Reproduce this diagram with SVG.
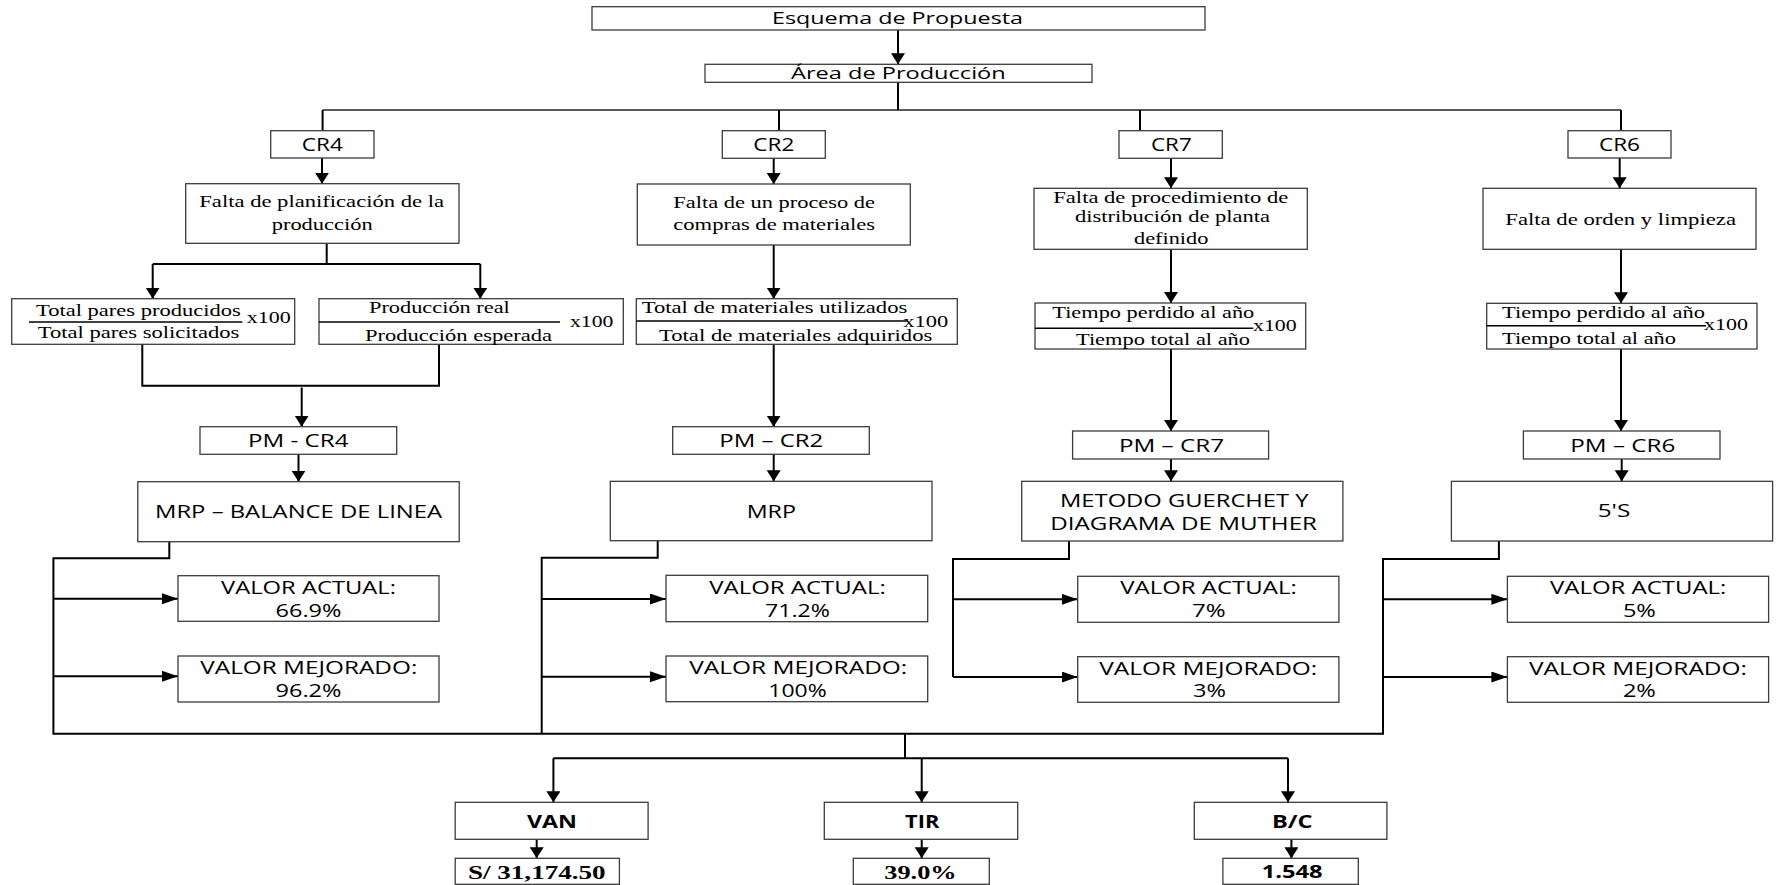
<svg xmlns="http://www.w3.org/2000/svg" width="1776" height="885" viewBox="0 0 1776 885">
  <style>
    .box { fill: #ffffff; stroke: #3c3c3c; stroke-width: 1.3; }
    .sans { font-family: "Open Sans", "Liberation Sans", sans-serif; fill: #000; }
    .serif { font-family: "Liberation Serif", "Times New Roman", serif; fill: #000; }
    .b { font-weight: bold; }
    .conn { fill: none; stroke: #000; stroke-width: 2; }
    .thin { stroke-width: 1.6; stroke: #222; }
    .frac { stroke: #000; stroke-width: 1.5; }
  </style>
  <defs>
    <marker id="aV" markerUnits="userSpaceOnUse" markerWidth="14" markerHeight="16" refX="11" refY="7" orient="auto">
      <path d="M0,0 L11,7 L0,14 z" fill="#000"/>
    </marker>
    <marker id="aH" markerUnits="userSpaceOnUse" markerWidth="18" markerHeight="13" refX="16" refY="5.5" orient="auto">
      <path d="M0,0 L16,5.5 L0,11 z" fill="#000"/>
    </marker>
  </defs>
  <rect width="1776" height="885" fill="#ffffff"/>

  <!-- connectors -->
  <g id="connectors" class="conn">
    <path d="M898,30 V64.3" marker-end="url(#aV)"/>
    <path d="M898,82.3 V110"/>
    <path class="thin" d="M322.6,110 H1621"/>
    <path d="M322.6,110 V130.7 M779,110 V130.7 M1140,110 V130.7 M1621,110 V130.7"/>
    <path d="M322,158 V183.7" marker-end="url(#aV)"/>
    <path d="M773.7,158.3 V184" marker-end="url(#aV)"/>
    <path d="M1171,158.3 V188.3" marker-end="url(#aV)"/>
    <path d="M1619.7,158 V188.3" marker-end="url(#aV)"/>
    <!-- CR4 branch -->
    <path d="M326.7,243.3 V264 M152.7,264 H480.3"/>
    <path d="M152.7,264 V298.7" marker-end="url(#aV)"/>
    <path d="M480.3,264 V298.7" marker-end="url(#aV)"/>
    <path d="M142.3,344.3 V385.7 H439 V344.3"/>
    <path d="M301.7,387.5 V426.7" marker-end="url(#aV)"/>
    <path d="M298.5,454.3 V481.7" marker-end="url(#aV)"/>
    <!-- CR2 branch -->
    <path d="M773.7,245 V298.7" marker-end="url(#aV)"/>
    <path d="M773.7,344.3 V426.7" marker-end="url(#aV)"/>
    <path d="M773.7,454.3 V481.3" marker-end="url(#aV)"/>
    <!-- CR7 branch -->
    <path d="M1171,249.3 V303" marker-end="url(#aV)"/>
    <path d="M1171,349 V431" marker-end="url(#aV)"/>
    <path d="M1171,459 V481.3" marker-end="url(#aV)"/>
    <!-- CR6 branch -->
    <path d="M1621,249.3 V303.3" marker-end="url(#aV)"/>
    <path d="M1621,349 V431" marker-end="url(#aV)"/>
    <path d="M1621.7,459 V481.3" marker-end="url(#aV)"/>
    <!-- result brackets -->
    <path d="M169.3,541.7 V558.3 H53.4 V733.7 H1383 V559 H1498.9 V541"/>
    <path d="M657.7,540.7 V557.7 H541.7 V733.7"/>
    <path d="M1069,541 V559 H953 V677"/>
    <path d="M53.4,598.7 H178" marker-end="url(#aH)"/>
    <path d="M53.4,676.3 H178" marker-end="url(#aH)"/>
    <path d="M541.7,599 H666" marker-end="url(#aH)"/>
    <path d="M541.7,676.7 H666" marker-end="url(#aH)"/>
    <path d="M953,599.3 H1077.7" marker-end="url(#aH)"/>
    <path d="M953,677 H1077.7" marker-end="url(#aH)"/>
    <path d="M1383,599.3 H1507.4" marker-end="url(#aH)"/>
    <path d="M1383,677 H1507.4" marker-end="url(#aH)"/>
    <!-- indicators -->
    <path d="M905,733.7 V758.3 M553.4,758.3 H1288"/>
    <path d="M553.4,758.3 V802.3" marker-end="url(#aV)"/>
    <path d="M921.7,758.3 V802.3" marker-end="url(#aV)"/>
    <path d="M1288,758.3 V802.3" marker-end="url(#aV)"/>
    <path d="M536.7,839.3 V858.3" marker-end="url(#aV)"/>
    <path d="M921.7,839.3 V858.3" marker-end="url(#aV)"/>
    <path d="M1291.4,839.3 V858.3" marker-end="url(#aV)"/>
  </g>

  <g id="esquema">
    <rect class="box" x="592" y="6.7" width="613" height="23.3"/>
    <text class="sans" x="772" y="24" font-size="17" textLength="251" lengthAdjust="spacingAndGlyphs">Esquema de Propuesta</text>
  </g>
  <g id="area">
    <rect class="box" x="705" y="64.3" width="387" height="18"/>
    <text class="sans" x="791" y="79" font-size="16.5" textLength="214.7" lengthAdjust="spacingAndGlyphs">Área de Producción</text>
  </g>

  <!-- causes -->
  <g id="cr4">
    <rect class="box" x="270.7" y="130.7" width="103.3" height="27.3"/>
    <text class="sans" x="301.8" y="150.7" font-size="18.5" textLength="41" lengthAdjust="spacingAndGlyphs">CR4</text>
  </g>
  <g id="cr2">
    <rect class="box" x="722.3" y="130.7" width="103" height="27.6"/>
    <text class="sans" x="753.3" y="150.7" font-size="18.5" textLength="41" lengthAdjust="spacingAndGlyphs">CR2</text>
  </g>
  <g id="cr7">
    <rect class="box" x="1119" y="130.7" width="103.3" height="27.6"/>
    <text class="sans" x="1151" y="150.7" font-size="18.5" textLength="40.7" lengthAdjust="spacingAndGlyphs">CR7</text>
  </g>
  <g id="cr6">
    <rect class="box" x="1568" y="130.7" width="103" height="27.3"/>
    <text class="sans" x="1599" y="150.7" font-size="18.5" textLength="41" lengthAdjust="spacingAndGlyphs">CR6</text>
  </g>

  <!-- problems -->
  <g id="falta-cr4">
    <rect class="box" x="185.7" y="183.7" width="273.3" height="59.6"/>
    <text class="serif" x="199.3" y="207.3" font-size="17" textLength="244.7" lengthAdjust="spacingAndGlyphs">Falta de planificación de la</text>
    <text class="serif" x="271.7" y="230" font-size="17" textLength="101" lengthAdjust="spacingAndGlyphs">producción</text>
  </g>
  <g id="falta-cr2">
    <rect class="box" x="637.3" y="184" width="273" height="61"/>
    <text class="serif" x="673.3" y="208.3" font-size="17" textLength="201.7" lengthAdjust="spacingAndGlyphs">Falta de un proceso de</text>
    <text class="serif" x="673.3" y="230" font-size="17" textLength="201.7" lengthAdjust="spacingAndGlyphs">compras de materiales</text>
  </g>
  <g id="falta-cr7">
    <rect class="box" x="1034" y="188.3" width="273.3" height="61"/>
    <text class="serif" x="1053.3" y="203.3" font-size="17" textLength="235" lengthAdjust="spacingAndGlyphs">Falta de procedimiento de</text>
    <text class="serif" x="1075" y="221.7" font-size="17" textLength="195" lengthAdjust="spacingAndGlyphs">distribución de planta</text>
    <text class="serif" x="1134" y="244.3" font-size="17" textLength="74.3" lengthAdjust="spacingAndGlyphs">definido</text>
  </g>
  <g id="falta-cr6">
    <rect class="box" x="1483" y="188.3" width="273" height="61"/>
    <text class="serif" x="1505.3" y="225" font-size="17" textLength="230.7" lengthAdjust="spacingAndGlyphs">Falta de orden y limpieza</text>
  </g>

  <!-- indicator formulas -->
  <g id="formula-pares">
    <rect class="box" x="11.7" y="298.7" width="283" height="45.6"/>
    <text class="serif" x="36" y="315.7" font-size="17" textLength="204.7" lengthAdjust="spacingAndGlyphs">Total pares producidos</text>
    <line class="frac" x1="29" y1="322" x2="242.3" y2="322"/>
    <text class="serif" x="246.7" y="323.3" font-size="17" textLength="44" lengthAdjust="spacingAndGlyphs">x100</text>
    <text class="serif" x="37.7" y="337.7" font-size="17" textLength="201.6" lengthAdjust="spacingAndGlyphs">Total pares solicitados</text>
  </g>
  <g id="formula-produccion">
    <rect class="box" x="319" y="298.7" width="304.3" height="45.6"/>
    <text class="serif" x="369" y="313.3" font-size="17" textLength="140.8" lengthAdjust="spacingAndGlyphs">Producción real</text>
    <line class="frac" x1="319" y1="322" x2="560" y2="322"/>
    <text class="serif" x="570" y="327.3" font-size="17" textLength="43.3" lengthAdjust="spacingAndGlyphs">x100</text>
    <text class="serif" x="365" y="340.5" font-size="17" textLength="187" lengthAdjust="spacingAndGlyphs">Producción esperada</text>
  </g>
  <g id="formula-materiales">
    <rect class="box" x="636.3" y="298.7" width="321" height="45.6"/>
    <text class="serif" x="641.7" y="313.3" font-size="17" textLength="265.6" lengthAdjust="spacingAndGlyphs">Total de materiales utilizados</text>
    <line class="frac" x1="636.3" y1="321" x2="906.7" y2="321"/>
    <text class="serif" x="903.3" y="327.3" font-size="17" textLength="45" lengthAdjust="spacingAndGlyphs">x100</text>
    <text class="serif" x="659" y="340.7" font-size="17" textLength="273.3" lengthAdjust="spacingAndGlyphs">Total de materiales adquiridos</text>
  </g>
  <g id="formula-tiempo-cr7">
    <rect class="box" x="1035" y="303" width="270.7" height="46"/>
    <text class="serif" x="1052.3" y="318.3" font-size="17" textLength="202" lengthAdjust="spacingAndGlyphs">Tiempo perdido al año</text>
    <line class="frac" x1="1035" y1="328.3" x2="1253.3" y2="328.3"/>
    <text class="serif" x="1253" y="330.7" font-size="17" textLength="43.7" lengthAdjust="spacingAndGlyphs">x100</text>
    <text class="serif" x="1076" y="345" font-size="17" textLength="174" lengthAdjust="spacingAndGlyphs">Tiempo total al año</text>
  </g>
  <g id="formula-tiempo-cr6">
    <rect class="box" x="1486.7" y="303.3" width="270.3" height="45.7"/>
    <text class="serif" x="1502" y="317.7" font-size="17" textLength="203" lengthAdjust="spacingAndGlyphs">Tiempo perdido al año</text>
    <line class="frac" x1="1486.7" y1="325.7" x2="1706" y2="325.7"/>
    <text class="serif" x="1704" y="330" font-size="17" textLength="44" lengthAdjust="spacingAndGlyphs">x100</text>
    <text class="serif" x="1502" y="344.3" font-size="17" textLength="174" lengthAdjust="spacingAndGlyphs">Tiempo total al año</text>
  </g>

  <!-- improvement proposals -->
  <g id="pm-cr4">
    <rect class="box" x="200" y="426.7" width="196.7" height="27.6"/>
    <text class="sans" x="248" y="446.7" font-size="18" textLength="100.5" lengthAdjust="spacingAndGlyphs">PM - CR4</text>
  </g>
  <g id="pm-cr2">
    <rect class="box" x="672.7" y="426.7" width="196.6" height="27.6"/>
    <text class="sans" x="719.3" y="446.7" font-size="18" textLength="104" lengthAdjust="spacingAndGlyphs">PM – CR2</text>
  </g>
  <g id="pm-cr7">
    <rect class="box" x="1072.6" y="431" width="196" height="28"/>
    <text class="sans" x="1119" y="452.3" font-size="18" textLength="105" lengthAdjust="spacingAndGlyphs">PM – CR7</text>
  </g>
  <g id="pm-cr6">
    <rect class="box" x="1523.4" y="431" width="196.6" height="28"/>
    <text class="sans" x="1570.3" y="452.3" font-size="18" textLength="105" lengthAdjust="spacingAndGlyphs">PM – CR6</text>
  </g>

  <!-- tools -->
  <g id="tool-cr4">
    <rect class="box" x="137.8" y="481.7" width="321.4" height="60"/>
    <text class="sans" x="155" y="518.3" font-size="19" textLength="287" lengthAdjust="spacingAndGlyphs">MRP – BALANCE DE LINEA</text>
  </g>
  <g id="tool-cr2">
    <rect class="box" x="610.3" y="481.3" width="321.7" height="59.4"/>
    <text class="sans" x="746.7" y="518.3" font-size="19" textLength="49.3" lengthAdjust="spacingAndGlyphs">MRP</text>
  </g>
  <g id="tool-cr7">
    <rect class="box" x="1021.7" y="481.3" width="321.2" height="59.7"/>
    <text class="sans" x="1060" y="506.7" font-size="17.5" textLength="248.6" lengthAdjust="spacingAndGlyphs">METODO GUERCHET Y</text>
    <text class="sans" x="1050.3" y="530" font-size="17.5" textLength="266.7" lengthAdjust="spacingAndGlyphs">DIAGRAMA DE MUTHER</text>
  </g>
  <g id="tool-cr6">
    <rect class="box" x="1451.4" y="481.3" width="321.2" height="59.7"/>
    <text class="sans" x="1597.7" y="516.7" font-size="17.5" textLength="32.6" lengthAdjust="spacingAndGlyphs">5'S</text>
  </g>

  <!-- current / improved values -->
  <g id="actual-cr4">
    <rect class="box" x="178" y="575.7" width="261" height="45.6"/>
    <text class="sans" x="221" y="593.5" font-size="17.5" textLength="175" lengthAdjust="spacingAndGlyphs">VALOR ACTUAL:</text>
    <text class="sans" x="275.5" y="616.7" font-size="17.5" textLength="66" lengthAdjust="spacingAndGlyphs">66.9%</text>
  </g>
  <g id="mejorado-cr4">
    <rect class="box" x="178" y="656" width="261" height="46"/>
    <text class="sans" x="200.3" y="674" font-size="17.5" textLength="217" lengthAdjust="spacingAndGlyphs">VALOR MEJORADO:</text>
    <text class="sans" x="275.5" y="696.7" font-size="17.5" textLength="66" lengthAdjust="spacingAndGlyphs">96.2%</text>
  </g>
  <g id="actual-cr2">
    <rect class="box" x="666" y="575.3" width="261.7" height="46.4"/>
    <text class="sans" x="709.3" y="594" font-size="17.5" textLength="176.4" lengthAdjust="spacingAndGlyphs">VALOR ACTUAL:</text>
    <text class="sans" x="765" y="616.7" font-size="17.5" textLength="65" lengthAdjust="spacingAndGlyphs">71.2%</text>
  </g>
  <g id="mejorado-cr2">
    <rect class="box" x="666" y="656" width="261.7" height="45.7"/>
    <text class="sans" x="689.3" y="674.3" font-size="17.5" textLength="218" lengthAdjust="spacingAndGlyphs">VALOR MEJORADO:</text>
    <text class="sans" x="768.3" y="696.7" font-size="17.5" textLength="58.4" lengthAdjust="spacingAndGlyphs">100%</text>
  </g>
  <g id="actual-cr7">
    <rect class="box" x="1077.7" y="576.3" width="261.2" height="46"/>
    <text class="sans" x="1120.3" y="594.3" font-size="17.5" textLength="176.4" lengthAdjust="spacingAndGlyphs">VALOR ACTUAL:</text>
    <text class="sans" x="1192" y="617.3" font-size="17.5" textLength="33.7" lengthAdjust="spacingAndGlyphs">7%</text>
  </g>
  <g id="mejorado-cr7">
    <rect class="box" x="1077.7" y="656.7" width="261.2" height="45.6"/>
    <text class="sans" x="1099.3" y="675" font-size="17.5" textLength="218" lengthAdjust="spacingAndGlyphs">VALOR MEJORADO:</text>
    <text class="sans" x="1193" y="697.3" font-size="17.5" textLength="33" lengthAdjust="spacingAndGlyphs">3%</text>
  </g>
  <g id="actual-cr6">
    <rect class="box" x="1507.4" y="576.3" width="261.2" height="46"/>
    <text class="sans" x="1550" y="594.3" font-size="17.5" textLength="176.4" lengthAdjust="spacingAndGlyphs">VALOR ACTUAL:</text>
    <text class="sans" x="1622.9" y="617.3" font-size="17.5" textLength="33" lengthAdjust="spacingAndGlyphs">5%</text>
  </g>
  <g id="mejorado-cr6">
    <rect class="box" x="1507.4" y="656.7" width="261.2" height="45.6"/>
    <text class="sans" x="1529" y="675" font-size="17.5" textLength="218" lengthAdjust="spacingAndGlyphs">VALOR MEJORADO:</text>
    <text class="sans" x="1622.9" y="697.3" font-size="17.5" textLength="33" lengthAdjust="spacingAndGlyphs">2%</text>
  </g>

  <!-- economic indicators -->
  <g id="van">
    <rect class="box" x="455.2" y="802.3" width="192.9" height="37"/>
    <text class="sans b" x="527" y="827.7" font-size="17.5" textLength="50" lengthAdjust="spacingAndGlyphs">VAN</text>
  </g>
  <g id="van-valor">
    <rect class="box" x="455.2" y="858.3" width="164.2" height="26"/>
    <text class="serif b" x="467.9" y="879.3" font-size="19" textLength="137.8" lengthAdjust="spacingAndGlyphs">S/ 31,174.50</text>
  </g>
  <g id="tir">
    <rect class="box" x="824.3" y="802.3" width="193.4" height="37"/>
    <text class="sans b" x="905" y="828.3" font-size="17.5" textLength="34.3" lengthAdjust="spacingAndGlyphs">TIR</text>
  </g>
  <g id="tir-valor">
    <rect class="box" x="853.3" y="858.3" width="136" height="26"/>
    <text class="serif b" x="884.3" y="879" font-size="19" textLength="72.4" lengthAdjust="spacingAndGlyphs">39.0%</text>
  </g>
  <g id="bc">
    <rect class="box" x="1194.3" y="802.3" width="192.6" height="37"/>
    <text class="sans b" x="1272" y="828" font-size="17.5" textLength="40.6" lengthAdjust="spacingAndGlyphs">B/C</text>
  </g>
  <g id="bc-valor">
    <rect class="box" x="1222.9" y="858.3" width="135.4" height="26"/>
    <text class="sans b" x="1261.7" y="878.3" font-size="17.5" textLength="61" lengthAdjust="spacingAndGlyphs">1.548</text>
  </g>
</svg>
